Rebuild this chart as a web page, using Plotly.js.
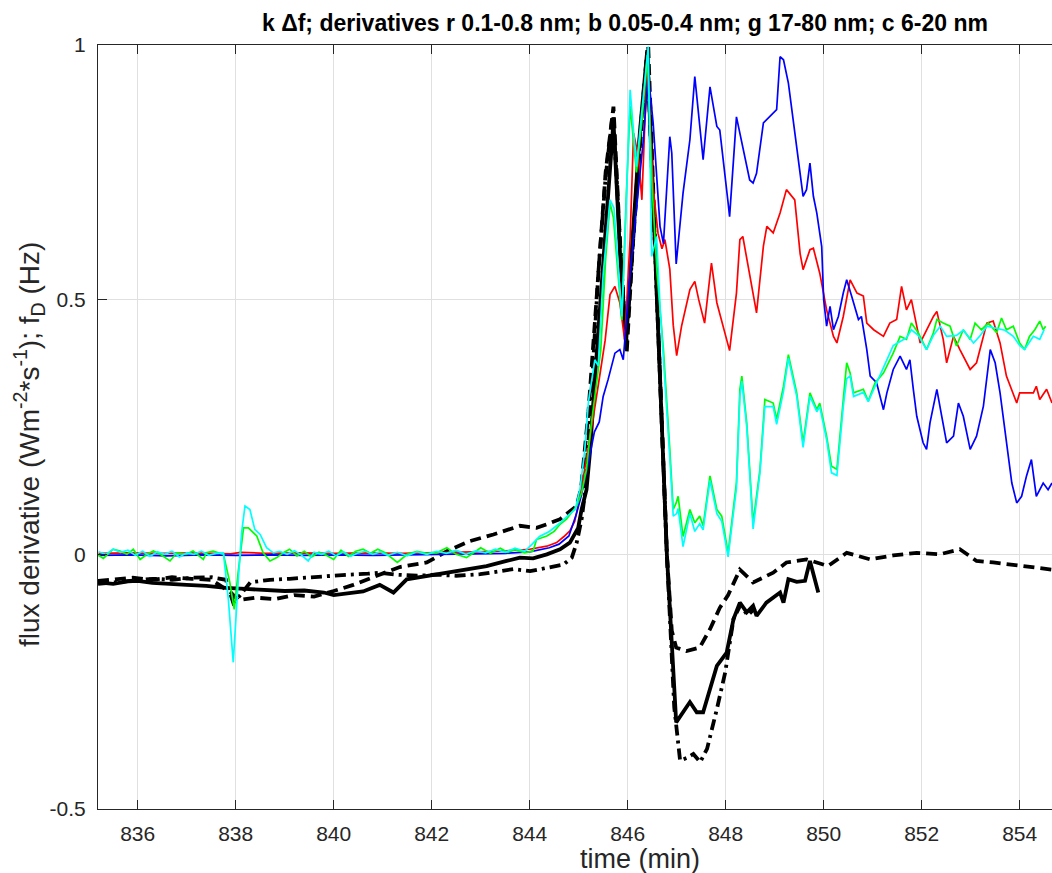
<!DOCTYPE html>
<html><head><meta charset="utf-8">
<script src="https://cdn.plot.ly/plotly-3.0.1.min.js"></script>
<style>html,body{margin:0;padding:0;background:#fff}#chart{width:1052px;height:873px}</style>
</head><body><div id="chart"></div>
<script>
// ---- data (time in minutes) ----
const redT = [835.2,835.8,836.5,837.2,837.9,838.1,838.6,839.3,840.0,840.7,841.4,842.1,842.8,843.3,843.7,844.0,844.35,844.55,844.7,844.82,844.92,845.0,845.1,845.2,845.3,845.44,845.54,845.64,845.74,845.84,845.94,846.05,846.12,846.22,846.29,846.4,846.52,846.62,846.7,846.76,846.86,846.93,847.0,847.1,847.27,847.37,847.45,847.57,847.71,847.82,847.95,848.08,848.22,848.29,848.35,848.49,848.63,848.77,848.84,848.97,849.11,849.24,849.41,849.52,849.58,849.72,849.79,849.92,850.06,850.2,850.27,850.40,850.54,850.68,850.81,850.88,851.02,851.22,851.35,851.49,851.59,851.69,851.79,851.9,851.97,852.1,852.24,852.31,852.44,852.51,852.65,852.78,852.92,852.99,853.12,853.26,853.33,853.46,853.6,853.73,853.94,854.0,854.28,854.34,854.41,854.55,854.66];
const redV = [0.002,0.003,0.002,0.003,0.001,0.004,0.002,0.003,0.002,0.003,0.002,0.003,0.004,0.006,0.008,0.01,0.016,0.023,0.035,0.046,0.065,0.101,0.154,0.21,0.27,0.357,0.42,0.51,0.526,0.494,0.42,0.62,0.827,0.781,0.696,0.97,0.72,0.63,0.6,0.618,0.56,0.45,0.39,0.448,0.52,0.536,0.5,0.454,0.572,0.494,0.448,0.40,0.513,0.618,0.624,0.552,0.474,0.605,0.644,0.631,0.67,0.716,0.696,0.59,0.559,0.598,0.601,0.552,0.48,0.428,0.415,0.467,0.539,0.513,0.507,0.454,0.441,0.428,0.454,0.461,0.526,0.48,0.5,0.448,0.415,0.44,0.467,0.477,0.422,0.376,0.428,0.402,0.376,0.363,0.376,0.428,0.454,0.458,0.415,0.35,0.297,0.317,0.317,0.33,0.304,0.324,0.297];

const blueT = [835.2,835.9,836.6,837.3,838.0,838.7,839.4,840.1,840.8,841.5,842.2,842.9,843.5,844.0,844.4,844.6,844.8,844.95,845.05,845.2,845.32,845.42,845.5,845.6,845.74,845.84,845.91,846.05,846.18,846.32,846.42,846.52,846.66,846.73,846.86,846.9,846.99,847.13,847.27,847.37,847.54,847.68,847.82,847.88,848.05,848.08,848.22,848.36,848.49,848.56,848.63,848.77,848.97,849.04,849.11,849.18,849.28,849.38,849.48,849.58,849.65,849.72,849.79,849.86,849.96,850.0,850.06,850.13,850.2,850.3,850.40,850.47,850.57,850.71,850.77,850.88,850.95,851.08,851.22,851.29,851.42,851.56,851.69,851.76,851.83,851.9,852.03,852.1,852.17,852.31,852.41,852.51,852.65,852.75,852.85,852.99,853.12,853.26,853.40,853.5,853.6,853.73,853.84,853.94,854.04,854.14,854.24,854.34,854.48,854.58,854.66];
const blueV = [-0.002,-0.001,-0.003,-0.001,-0.002,-0.001,-0.002,-0.001,-0.002,-0.001,0.0,0.001,0.002,0.005,0.013,0.02,0.036,0.078,0.114,0.18,0.24,0.26,0.31,0.343,0.395,0.402,0.382,0.552,0.683,0.814,0.944,0.847,0.644,0.61,0.82,0.788,0.57,0.709,0.814,0.938,0.775,0.918,0.84,0.833,0.69,0.663,0.859,0.794,0.735,0.729,0.748,0.847,0.866,0.873,0.977,0.971,0.925,0.853,0.775,0.703,0.716,0.768,0.703,0.67,0.604,0.5,0.448,0.487,0.441,0.467,0.513,0.539,0.507,0.461,0.467,0.402,0.35,0.337,0.284,0.317,0.363,0.389,0.363,0.382,0.324,0.271,0.219,0.206,0.258,0.324,0.271,0.219,0.232,0.297,0.271,0.206,0.232,0.291,0.402,0.376,0.317,0.219,0.14,0.101,0.114,0.154,0.186,0.114,0.14,0.127,0.14];

const greenT = [835.17,835.3,835.5,835.64,835.78,835.91,836.05,836.19,836.32,836.46,836.66,836.8,836.99,837.13,837.34,837.4,837.54,837.68,837.75,837.88,837.97,838.05,838.16,838.26,838.43,838.56,838.7,838.84,838.97,839.1,839.25,839.4,839.55,839.7,839.85,840.0,840.15,840.3,840.45,840.6,840.75,840.9,841.05,841.3,841.5,841.7,841.9,842.1,842.31,842.5,842.71,842.9,843.0,843.2,843.4,843.55,843.7,843.9,844.07,844.14,844.35,844.5,844.62,844.75,844.96,845.06,845.16,845.25,845.37,845.45,845.55,845.64,845.71,845.8,845.88,845.97,846.05,846.18,846.3,846.4,846.5,846.6,846.73,846.86,846.93,846.99,847.03,847.13,847.27,847.37,847.47,847.54,847.68,847.82,847.92,848.05,848.22,848.29,848.33,848.43,848.56,848.70,848.80,848.97,849.04,849.18,849.28,849.45,849.58,849.72,849.86,849.92,850.06,850.16,850.27,850.40,850.47,850.54,850.61,850.81,850.91,851.05,851.22,851.42,851.56,851.69,851.79,851.93,852.10,852.24,852.31,852.44,852.58,852.71,852.85,852.99,853.09,853.22,853.36,853.53,853.63,853.73,853.87,854.0,854.1,854.2,854.31,854.41,854.48,854.53];
const greenV = [0.0,-0.008,0.01,0.0065,0.0,0.01,-0.01,0.0,0.0065,0.0,-0.013,0.003,0.0,0.0065,-0.01,0.003,0.0065,0.003,0.0,-0.055,-0.108,-0.036,0.052,0.052,0.036,0.003,-0.013,-0.0065,0.003,0.01,-0.003,0.006,-0.005,0.004,-0.002,-0.01,0.008,-0.004,0.006,0.01,0.002,0.01,0.003,-0.016,0.0,0.006,0.002,0.003,0.013,0.0,-0.0065,0.006,0.013,0.002,0.012,0.004,0.009,0.003,0.0065,0.029,0.036,0.045,0.059,0.069,0.095,0.121,0.167,0.25,0.343,0.4,0.58,0.69,0.66,0.55,0.46,0.7,0.88,0.75,0.86,0.98,0.72,0.55,0.402,0.206,0.088,0.101,0.114,0.035,0.088,0.062,0.075,0.056,0.154,0.088,0.075,0.003,0.141,0.324,0.35,0.258,0.062,0.167,0.304,0.297,0.265,0.33,0.392,0.317,0.219,0.317,0.284,0.297,0.232,0.173,0.167,0.304,0.376,0.356,0.317,0.324,0.301,0.337,0.356,0.395,0.428,0.422,0.454,0.435,0.402,0.435,0.461,0.454,0.448,0.409,0.441,0.422,0.454,0.441,0.454,0.435,0.464,0.441,0.448,0.415,0.402,0.428,0.441,0.458,0.441,0.448];

const cyanT = [835.2,835.35,835.5,835.65,835.8,835.95,836.1,836.25,836.4,836.55,836.7,836.85,837.0,837.15,837.3,837.45,837.6,837.75,837.85,837.95,838.05,838.12,838.19,838.29,838.39,838.5,838.63,838.77,838.9,839.05,839.2,839.35,839.48,839.6,839.75,839.9,840.05,840.2,840.35,840.5,840.65,840.8,840.95,841.1,841.3,841.5,841.7,841.9,842.1,842.3,842.5,842.7,842.9,843.1,843.3,843.5,843.7,843.9,844.05,844.2,844.4,844.6,844.8,844.93,845.03,845.12,845.2,845.33,845.4,845.5,845.64,845.72,845.88,845.94,846.05,846.18,846.3,846.42,846.49,846.59,846.66,846.73,846.86,846.93,847.0,847.03,847.13,847.27,847.37,847.47,847.54,847.68,847.82,847.92,848.05,848.22,848.29,848.33,848.43,848.56,848.70,848.80,848.97,849.04,849.18,849.28,849.45,849.58,849.72,849.86,849.92,850.06,850.16,850.27,850.40,850.47,850.54,850.61,850.81,850.91,851.05,851.22,851.42,851.56,851.69,851.79,851.93,852.10,852.24,852.38,852.51,852.71,852.85,853.06,853.2,853.33,853.5,853.7,853.87,854.0,854.1,854.28,854.41,854.5];
const cyanV = [0.005,0.0,0.01,0.004,0.008,-0.002,0.006,-0.004,0.005,0.0,0.006,-0.005,0.003,0.0,0.006,-0.002,0.002,0.003,-0.088,-0.212,-0.055,0.042,0.095,0.088,0.049,0.039,0.013,0.003,0.006,0.0,0.007,-0.002,-0.013,0.004,0.0,0.006,-0.003,0.005,-0.004,0.003,0.006,0.0,0.005,-0.002,0.004,-0.003,0.005,0.0,0.006,0.002,0.008,0.0,0.007,0.003,0.01,0.004,0.012,0.006,0.02,0.035,0.045,0.06,0.078,0.088,0.13,0.2,0.3,0.382,0.37,0.55,0.696,0.68,0.467,0.6,0.912,0.761,0.88,0.997,0.585,0.624,0.487,0.39,0.19,0.075,0.08,0.09,0.015,0.08,0.045,0.06,0.048,0.145,0.08,0.065,-0.005,0.13,0.31,0.34,0.25,0.05,0.16,0.29,0.29,0.255,0.32,0.385,0.31,0.21,0.31,0.28,0.29,0.225,0.16,0.155,0.29,0.345,0.35,0.31,0.318,0.30,0.33,0.37,0.41,0.418,0.425,0.441,0.43,0.402,0.43,0.448,0.428,0.43,0.44,0.415,0.43,0.448,0.445,0.44,0.428,0.41,0.402,0.428,0.422,0.441];

const kSolidT = [835.19,835.5,835.8,836.0,836.3,836.6,837.0,837.4,837.8,838.2,838.6,839.0,839.4,839.8,840.0,840.3,840.6,840.94,841.22,841.49,841.9,842.31,842.71,843.12,843.53,843.80,844.07,844.35,844.62,844.82,844.99,845.06,845.16,845.23,845.35,845.5,845.6,845.71,845.85,845.97,846.1,846.25,846.4,846.6,846.8,846.99,847.13,847.27,847.41,847.54,847.82,848.02,848.16,848.29,848.43,848.56,848.63,848.83,849.11,849.18,849.28,849.45,849.62,849.72,849.89];
const kSolidV = [-0.055,-0.058,-0.053,-0.052,-0.056,-0.057,-0.06,-0.062,-0.066,-0.068,-0.07,-0.072,-0.071,-0.075,-0.08,-0.076,-0.073,-0.06,-0.075,-0.049,-0.042,-0.036,-0.029,-0.023,-0.013,-0.0065,-0.008,0.0,0.01,0.023,0.052,0.088,0.127,0.2,0.37,0.58,0.72,0.85,0.58,0.42,0.62,0.83,0.99,0.5,0.0,-0.33,-0.31,-0.29,-0.31,-0.31,-0.219,-0.193,-0.127,-0.095,-0.114,-0.101,-0.121,-0.095,-0.075,-0.095,-0.049,-0.054,-0.052,-0.013,-0.075];

const kDashT = [835.19,835.5,835.9,836.3,836.7,837.1,837.5,837.9,838.05,838.4,838.8,839.2,839.6,840.0,840.4,840.8,841.35,841.9,842.31,842.78,843.26,843.8,844.14,844.35,844.62,844.96,845.05,845.2,845.4,845.55,845.71,845.85,845.98,846.1,846.25,846.42,846.6,846.8,846.9,846.99,847.2,847.47,847.68,847.88,848.05,848.29,848.56,848.97,849.24,849.65,850.09,850.47,850.95,851.42,851.9,852.37,852.78,853.12,853.46,853.8,854.14,854.66];
const kDashV = [-0.052,-0.05,-0.046,-0.05,-0.045,-0.048,-0.05,-0.075,-0.09,-0.085,-0.088,-0.08,-0.083,-0.072,-0.06,-0.045,-0.025,-0.016,0.006,0.026,0.039,0.056,0.052,0.059,0.069,0.095,0.13,0.28,0.55,0.75,0.879,0.6,0.395,0.6,0.8,0.997,0.5,0.0,-0.15,-0.183,-0.19,-0.183,-0.147,-0.105,-0.08,-0.03,-0.055,-0.036,-0.016,-0.01,-0.023,0.003,-0.01,-0.002,0.003,0.0,0.01,-0.013,-0.016,-0.02,-0.023,-0.03];

const kDotT = [835.19,835.5,835.9,836.3,836.7,837.1,837.5,837.8,837.95,838.05,838.3,838.7,839.1,839.5,839.9,840.3,840.7,840.94,841.3,841.7,842.1,842.5,842.99,843.3,843.67,844.01,844.35,844.69,844.86,844.96,845.06,845.13,845.25,845.4,845.55,845.7,845.85,845.97,846.1,846.25,846.4,846.6,846.8,846.95,847.07,847.2,847.34,847.48,847.62,847.82,847.99,848.16,848.3,848.45,848.6];
const kDotV = [-0.058,-0.055,-0.05,-0.048,-0.05,-0.046,-0.045,-0.05,-0.095,-0.085,-0.055,-0.05,-0.048,-0.045,-0.042,-0.04,-0.038,-0.036,-0.04,-0.042,-0.04,-0.042,-0.039,-0.035,-0.029,-0.033,-0.026,-0.02,-0.0065,0.023,0.069,0.121,0.3,0.55,0.74,0.87,0.6,0.41,0.6,0.82,0.99,0.5,0.0,-0.3,-0.405,-0.4,-0.392,-0.408,-0.382,-0.304,-0.232,-0.127,-0.1,-0.12,-0.105];

const xTicks = [836,838,840,842,844,846,848,850,852,854];
const yTicks = [-0.5,0,0.5,1];
const yTickText = ['-0.5','0','0.5','1'];

const titleText = 'k \u0394f; derivatives r 0.1-0.8 nm; b 0.05-0.4 nm; g 17-80 nm; c 6-20 nm';
const xLabel = 'time (min)';
const yLabel = 'flux derivative (Wm<sup>-2</sup>*s<sup>-1</sup>); f<sub>D</sub> (Hz)';

// ---- plot ----
const FONT = '"Liberation Sans",Arial,Helvetica,sans-serif';
const INK = '#262626';
function line(x, y, color, width, dash){
  return {x:x, y:y, type:'scatter', mode:'lines', hoverinfo:'skip',
          line:{color:color, width:width, dash:dash||'solid'}};
}
const traces = [
  line(kDashT, kDashV, '#000000', 3.8, '11px,6px'),
  line(kDotT, kDotV, '#000000', 3.8, '11px,5px,3px,5px'),
  line(kSolidT, kSolidV, '#000000', 3.8),
  line(redT, redV, '#ff0000', 1.7),
  line(blueT, blueV, '#0000ff', 1.7),
  line(greenT, greenV, '#00ff00', 1.7),
  line(cyanT, cyanV, '#00ffff', 1.7)
];
const W = 1052, H = 873, L = 98, R = 0, T = 45, B = 64;
const layout = {
  width: W, height: H, showlegend: false,
  paper_bgcolor: '#ffffff', plot_bgcolor: '#ffffff',
  margin: {l: L, r: R, t: T, b: B, pad: 0},
  font: {family: FONT, color: INK, size: 21},
  title: {text: titleText, font: {family: FONT, size: 23, color: '#000000', weight: 'bold'},
          x: 625 / W, xref: 'container', xanchor: 'center',
          y: 1 - 23 / H, yref: 'container', yanchor: 'middle'},
  xaxis: {range: [835.19, 854.66], tickvals: xTicks, ticktext: xTicks.map(String),
          ticks: 'inside', ticklen: 9, tickwidth: 1, tickcolor: INK,
          showline: true, linecolor: INK, linewidth: 1, mirror: 'ticks',
          showgrid: true, gridcolor: '#e0e0e0', gridwidth: 1, zeroline: false,
          tickfont: {family: FONT, size: 21, color: INK}, ticklabelstandoff: 6},
  yaxis: {range: [-0.5, 1], tickvals: yTicks, ticktext: yTickText,
          ticks: 'inside', ticklen: 9, tickwidth: 1, tickcolor: INK,
          showline: true, linecolor: INK, linewidth: 1,
          showgrid: true, gridcolor: '#e0e0e0', gridwidth: 1, zeroline: false,
          tickfont: {family: FONT, size: 21, color: INK}, ticklabelstandoff: 7},
  annotations: [
    {text: xLabel, xref: 'paper', yref: 'paper', x: (640 - L) / (W - L - R), y: -(859 - (H - B)) / (H - T - B),
     xanchor: 'center', yanchor: 'middle', showarrow: false, font: {family: FONT, size: 27, color: INK}},
    {text: yLabel, xref: 'paper', yref: 'paper', x: -(L - 29) / (W - L - R), y: 1 - (445 - T) / (H - T - B),
     xanchor: 'center', yanchor: 'middle', textangle: -90, showarrow: false, font: {family: FONT, size: 28, color: INK}}
  ]
};
Plotly.newPlot('chart', traces, layout, {displayModeBar: false, staticPlot: true});
</script></body></html>
